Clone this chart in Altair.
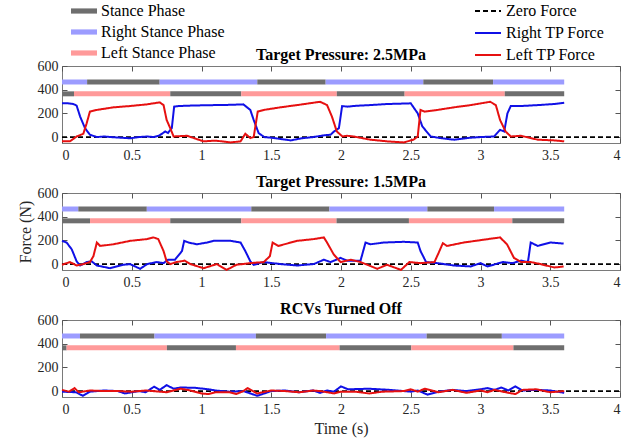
import altair as alt
import pandas as pd

# ---------------- data ----------------
x_ticks = [0, 0.5, 1, 1.5, 2, 2.5, 3, 3.5, 4]
y_ticks = [0, 200, 400, 600]
panel_titles = ["Target Pressure: 2.5MPa", "Target Pressure: 1.5MPa", "RCVs Turned Off"]

phase_names = ["Stance Phase", "Right Stance Phase", "Left Stance Phase"]
phase_colors = ["#6e6e6e", "#9c9cff", "#ff9a9a"]
force_names = ["Zero Force", "Right TP Force", "Left TP Force"]
force_colors = ["#000000", "#1010e6", "#e61010"]

right_row_level = 465
left_row_level = 365
bar_half_thickness = 21  # in force units

# stance-phase bar boundaries (s)
p1_right_bounds = [0, 0.18, 0.70, 1.40, 1.89, 2.59, 3.09, 3.60]
p1_left_bounds = [0, 0.086, 0.776, 1.285, 1.97, 2.456, 3.174, 3.60]
p2_right_bounds = [0, 0.117, 0.608, 1.357, 1.917, 2.619, 3.097, 3.60]
p2_left_bounds = [0, 0.201, 0.776, 1.285, 1.968, 2.487, 3.228, 3.60]
p3_right_bounds = [0, 0.129, 0.663, 1.39, 1.893, 2.614, 3.153, 3.60]
p3_left_bounds = [0, 0.033, 0.752, 1.247, 1.99, 2.504, 3.236, 3.60]

zero_t = [0, 4]
zero_v = [0, 0]

# Panel 1 (2.5 MPa)
p1_right_t = [0, 0.04, 0.08, 0.105, 0.13, 0.165, 0.2, 0.25, 0.3, 0.35, 0.42, 0.49, 0.55, 0.61, 0.66, 0.70,
              0.74, 0.76, 0.787, 0.804, 0.835, 0.9, 1.0, 1.1, 1.2, 1.30, 1.35, 1.374, 1.41, 1.45, 1.5, 1.56,
              1.64, 1.72, 1.8, 1.88, 1.925, 1.95, 1.985, 2.008, 2.044, 2.12, 2.21, 2.33, 2.42, 2.50, 2.55,
              2.583, 2.643, 2.72, 2.81, 2.93, 3.0, 3.097, 3.14, 3.17, 3.193, 3.217, 3.29, 3.41, 3.53, 3.60]
p1_right_v = [285, 285, 280, 265, 173, 75, 20, 0, 5, 0, -5, -10, 0, 5, 0, 15,
              47, 35, 75, 257, 262, 265, 268, 270, 272, 276, 229, 145, 33, 0, -5, -15,
              -28, -10, 0, 15, 20, 47, 75, 262, 257, 265, 270, 279, 282, 285, 200,
              90, 5, -10, -22, -5, 0, 5, 61, 47, 200, 262, 262, 270, 279, 290]
p1_left_t = [0, 0.057, 0.105, 0.153, 0.177, 0.2, 0.249, 0.368, 0.488, 0.608, 0.70, 0.728, 0.75, 0.776,
             0.80, 0.896, 1.015, 1.1, 1.21, 1.28, 1.314, 1.35, 1.374, 1.403, 1.446, 1.565, 1.685, 1.85,
             1.90, 1.935, 1.97, 2.01, 2.044, 2.09, 2.21, 2.33, 2.45, 2.52, 2.55, 2.56, 2.57, 2.60, 2.69,
             2.81, 2.93, 3.07, 3.11, 3.14, 3.18, 3.217, 3.29, 3.41, 3.53, 3.60]
p1_left_v = [-36, -36, 5, 28, 117, 215, 229, 251, 262, 276, 293, 270, 145, 75,
             5, 11, -36, -30, -45, -36, 28, -8, 0, 215, 229, 251, 270, 298,
             270, 173, 47, 5, 11, 5, -22, -36, -45, -22, 5, 117, 229, 215, 229,
             251, 270, 298, 270, 145, 47, 5, 11, -22, -28, -36]

# Panel 2 (1.5 MPa)
p2_right_t = [0, 0.033, 0.07, 0.105, 0.13, 0.177, 0.213, 0.25, 0.345, 0.44, 0.488, 0.56, 0.61, 0.68,
              0.728, 0.76, 0.81, 0.86, 0.876, 0.907, 0.967, 1.04, 1.087, 1.21, 1.28, 1.314, 1.35, 1.374,
              1.446, 1.565, 1.685, 1.805, 1.877, 1.925, 1.997, 2.044, 2.14, 2.176, 2.21, 2.31, 2.45,
              2.55, 2.57, 2.61, 2.69, 2.81, 2.93, 3.00, 3.05, 3.16, 3.23, 3.29, 3.34, 3.36, 3.41, 3.50, 3.596]
p2_right_v = [196, 182, 124, 23, -12, 17, 23, -12, -35, -6, 0, -40, 0, 17,
              8, 37, 37, 110, 196, 182, 167, 182, 196, 196, 182, 110, 23, -6,
              17, 0, -12, 0, 37, 17, 52, 29, 29, 182, 167, 182, 188,
              182, 110, 17, 8, -12, -20, 8, -20, 17, 8, 29, 17, 182, 153, 182, 173]
p2_left_t = [0, 0.057, 0.105, 0.153, 0.2, 0.225, 0.25, 0.273, 0.368, 0.488, 0.61, 0.656, 0.69, 0.728,
             0.75, 0.776, 0.82, 0.88, 0.92, 1.015, 1.11, 1.18, 1.25, 1.35, 1.446, 1.49, 1.51, 1.55,
             1.685, 1.805, 1.877, 1.90, 1.948, 1.997, 2.07, 2.14, 2.26, 2.33, 2.43, 2.49, 2.57, 2.67,
             2.70, 2.73, 2.76, 2.88, 3.00, 3.14, 3.19, 3.24, 3.29, 3.36, 3.43, 3.53, 3.596]
p2_left_v = [-6, 17, -12, 0, 17, 66, 182, 153, 167, 196, 211, 225, 211, 110,
             23, 0, 17, 29, 0, -35, 0, -49, -6, 8, 17, 66, 182, 153,
             196, 211, 225, 182, 81, 17, 37, 17, -40, -6, -49, 17, 8, 17,
             95, 176, 153, 182, 202, 225, 167, 52, 17, 17, 0, -29, -20]

# Panel 3 (RCVs off)
p3_right_t = [0, 0.1, 0.15, 0.2, 0.3, 0.4, 0.45, 0.55, 0.6, 0.66, 0.7, 0.75, 0.8, 0.85, 0.95, 1.05, 1.1,
              1.2, 1.3, 1.4, 1.5, 1.6, 1.7, 1.8, 1.85, 1.9, 1.95, 2.0, 2.05, 2.2, 2.35, 2.5, 2.55, 2.62,
              2.7, 2.8, 2.9, 3.0, 3.05, 3.1, 3.15, 3.2, 3.25, 3.3, 3.4, 3.5, 3.6]
p3_right_v = [-5, -10, -40, -5, 5, 0, -20, 0, -10, 37, 10, 50, 20, 30, 28, 15, 5,
              -5, 0, -40, 0, 5, -10, 5, -15, 5, -5, 40, 15, 20, 10, -5, 5, -30,
              -5, 10, 0, 15, 25, 10, 30, 5, 40, 5, 10, 5, -15]
p3_left_t = [0, 0.05, 0.09, 0.12, 0.2, 0.3, 0.4, 0.5, 0.6, 0.7, 0.75, 0.85, 0.9, 1.0, 1.05, 1.1, 1.2,
             1.25, 1.3, 1.33, 1.4, 1.5, 1.6, 1.7, 1.8, 1.85, 1.95, 2.0, 2.1, 2.2, 2.3, 2.45, 2.5, 2.55,
             2.6, 2.7, 2.8, 2.9, 3.0, 3.05, 3.1, 3.2, 3.25, 3.3, 3.4, 3.5, 3.6]
p3_left_v = [10, -5, 25, -10, 5, 0, 0, -5, 5, -5, -10, 20, 10, -20, -25, -10, -10,
             -25, 0, 25, -20, 5, 0, -10, 5, 0, -20, -5, -5, -20, -5, 0, 15, -5,
             20, -10, 10, -15, 5, -10, 10, -15, -25, 10, 15, -10, 0]

# ---------------- layout constants ----------------
W = 558
H = 77
SERIF = "Liberation Serif"
AXIS_COLOR = "#262626"


def phase_table(right_bounds, left_bounds):
    rows = []
    for i in range(len(right_bounds) - 1):
        rows.append({"start": right_bounds[i], "end": right_bounds[i + 1], "level": right_row_level,
                     "phase": "Right Stance Phase" if i % 2 == 0 else "Stance Phase"})
    for i in range(len(left_bounds) - 1):
        rows.append({"start": left_bounds[i], "end": left_bounds[i + 1], "level": left_row_level,
                     "phase": "Stance Phase" if i % 2 == 0 else "Left Stance Phase"})
    return pd.DataFrame(rows)


def force_table(rt, rv, lt, lv):
    parts = [
        pd.DataFrame({"t": rt, "v": rv, "series": "Right TP Force"}),
        pd.DataFrame({"t": lt, "v": lv, "series": "Left TP Force"}),
    ]
    return pd.concat(parts, ignore_index=True)


x_scale = alt.Scale(domain=[0, 4], nice=False, zero=False)
y_scale = alt.Scale(domain=[-50, 600], nice=False, zero=False)
phase_scale = alt.Scale(domain=phase_names, range=phase_colors)
force_scale = alt.Scale(domain=force_names, range=force_colors)
dash_scale = alt.Scale(domain=force_names, range=[[5, 3], [1, 0], [1, 0]])

phase_legend = alt.Legend(
    title=None, orient="none", legendX=9, legendY=-68, direction="vertical",
    symbolType="M-1,-0.2H1V0.2H-1Z", symbolStrokeWidth=0, symbolSize=676,
    labelFont=SERIF, labelFontSize=16, labelColor="#000000", rowPadding=-8, labelOffset=4)
force_legend = alt.Legend(
    title=None, orient="none", legendX=412, legendY=-69, direction="vertical",
    symbolType="stroke", symbolStrokeWidth=2, symbolSize=676,
    labelFont=SERIF, labelFontSize=16, labelColor="#000000", rowPadding=-8, labelOffset=4)


def panel(idx, rb, lb, rt, rv, lt, lv, y_title, x_title):
    phases = phase_table(rb, lb)
    forces = force_table(rt, rv, lt, lv)
    zero = pd.DataFrame({"t": zero_t, "v": zero_v, "series": "Zero Force"})

    color_enc = alt.Color("phase:N", scale=phase_scale, legend=phase_legend)
    stroke_enc = alt.Stroke("series:N", scale=force_scale, legend=force_legend)
    dash_enc = alt.StrokeDash("series:N", scale=dash_scale, legend=force_legend)

    bottom_axis_kw = dict(orient="bottom", values=x_ticks, format="~g", ticks=False, domain=False,
                          grid=False, labelPadding=5)
    left_axis_kw = dict(orient="left", values=y_ticks, ticks=False, domain=False, grid=False,
                        labelPadding=4)
    if x_title:
        bottom_axis_kw["title"] = x_title
        bottom_axis_kw["titlePadding"] = 4
    else:
        bottom_axis_kw["title"] = None
    if y_title:
        left_axis_kw["title"] = y_title
        left_axis_kw["titlePadding"] = 4
    else:
        left_axis_kw["title"] = None

    bars = alt.Chart(phases).transform_calculate(
        top=f"datum.level + {bar_half_thickness}",
        bot=f"datum.level - {bar_half_thickness}",
    ).mark_rect().encode(
        x=alt.X("start:Q", scale=x_scale, axis=alt.Axis(**bottom_axis_kw)),
        x2="end:Q",
        y=alt.Y("top:Q", scale=y_scale, axis=alt.Axis(**left_axis_kw)),
        y2="bot:Q",
        color=color_enc,
    )

    zero_line = alt.Chart(zero).mark_line(strokeWidth=1.6).encode(
        x=alt.X("t:Q", scale=x_scale, axis=alt.Axis(
            orient="top", offset=-H, values=x_ticks, labels=False, tickSize=5, domain=False,
            grid=False, title=None)),
        y=alt.Y("v:Q", scale=y_scale, axis=alt.Axis(
            orient="right", offset=-W, values=y_ticks, labels=False, tickSize=5, domain=False,
            grid=False, title=None)),
        stroke=stroke_enc,
        strokeDash=dash_enc,
    )

    lines = alt.Chart(forces).mark_line(strokeWidth=2).encode(
        x=alt.X("t:Q", scale=x_scale, axis=alt.Axis(
            orient="bottom", offset=-H, values=x_ticks, labels=False, tickSize=5, domain=False,
            grid=False, title=None)),
        y=alt.Y("v:Q", scale=y_scale, axis=alt.Axis(
            orient="left", offset=-W, values=y_ticks, labels=False, tickSize=5, domain=False,
            grid=False, title=None)),
        stroke=stroke_enc,
        strokeDash=dash_enc,
        detail="series:N",
    )

    return alt.layer(bars, zero_line, lines).resolve_axis(
        x="independent", y="independent"
    ).properties(
        width=W, height=H,
        title=alt.TitleParams(panel_titles[idx], font=SERIF, fontSize=16, fontWeight="bold",
                              color="#000000", anchor="middle", offset=-4),
    )


c1 = panel(0, p1_right_bounds, p1_left_bounds, p1_right_t, p1_right_v, p1_left_t, p1_left_v,
           None, None)
c2 = panel(1, p2_right_bounds, p2_left_bounds, p2_right_t, p2_right_v, p2_left_t, p2_left_v,
           "Force (N)", None)
c3 = panel(2, p3_right_bounds, p3_left_bounds, p3_right_t, p3_right_v, p3_left_t, p3_left_v,
           None, "Time (s)")

chart = alt.vconcat(c1, c2, c3, spacing=10).resolve_scale(
    color="shared", stroke="shared", strokeDash="shared"
).properties(
    padding={"left": 16, "top": -3, "right": 5, "bottom": 5},
    background="#ffffff",
).configure_view(
    stroke="#7a7a7a", strokeWidth=1
).configure_axis(
    labelFont=SERIF, labelFontSize=14, labelColor=AXIS_COLOR,
    titleFont=SERIF, titleFontSize=16, titleFontWeight="normal", titleColor=AXIS_COLOR,
    tickColor="#555555", tickWidth=1,
)

chart.save("out.html", embed_options={"renderer": "svg", "actions": False})
